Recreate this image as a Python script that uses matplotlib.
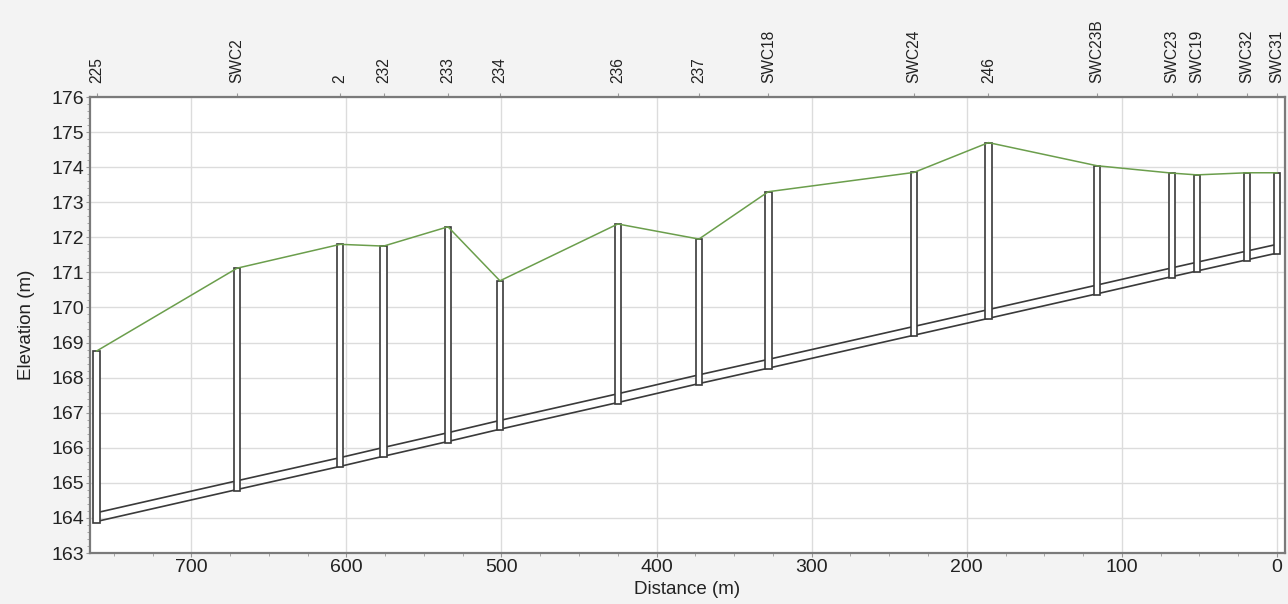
import matplotlib
matplotlib.use("Agg")
import matplotlib.pyplot as plt
from matplotlib.patches import Rectangle
from matplotlib.ticker import MultipleLocator

plt.rcParams['font.family'] = ['Liberation Sans', 'DejaVu Sans']

# Manhole names, chainage (m), ground elevation (m), invert elevation (m)
names = ["225", "SWC2", "2", "232", "233", "234", "236", "237", "SWC18",
         "SWC24", "246", "SWC23B", "SWC23", "SWC19", "SWC32", "SWC31"]
distance = [761, 670.5, 604, 576, 534.5, 501, 425, 372.7, 328,
            234, 186, 116, 67.7, 51.6, 19.3, 0]
ground = [168.76, 171.12, 171.8, 171.75, 172.3, 170.76, 172.38, 171.95, 173.3,
          173.85, 174.7, 174.04, 173.83, 173.78, 173.84, 173.84]
invert = [163.90, 164.81, 165.47, 165.76, 166.18, 166.53, 167.29, 167.83, 168.27,
          169.21, 169.69, 170.39, 170.88, 171.04, 171.36, 171.55]
pipe_diameter = 0.25

fig = plt.figure(figsize=(12.88, 6.04), dpi=100, facecolor='#f3f3f3')
ax = fig.add_axes([0.0699, 0.0844, 0.9278, 0.755])
ax.set_facecolor('white')

# pipe (two lines)
ax.plot(distance, invert, color='#3a3a3a', lw=1.2, zorder=3)
ax.plot(distance, [v + pipe_diameter for v in invert], color='#3a3a3a', lw=1.2, zorder=3)

# manholes
mh_w = 4.2
for d, g, v in zip(distance, ground, invert):
    ax.add_patch(Rectangle((d - mh_w / 2, v - 0.03), mh_w, g - v + 0.03,
                           facecolor='white', edgecolor='#3a3a3a', lw=1.2, zorder=4))

# ground line
ax.plot(distance, ground, color='#6b9e4c', lw=1.1, zorder=5)

ax.set_xlim(765.3, -5.2)
ax.set_ylim(163, 176)
ax.xaxis.set_major_locator(MultipleLocator(100))
ax.xaxis.set_minor_locator(MultipleLocator(25))
ax.yaxis.set_major_locator(MultipleLocator(1))
ax.yaxis.set_minor_locator(MultipleLocator(0.2))
ax.grid(True, which='major', color='#dcdcdc', lw=1.0, zorder=0)
ax.set_axisbelow(True)

for s in ax.spines.values():
    s.set_color('#7a7a7a')
    s.set_linewidth(1.6)

ax.tick_params(axis='both', which='major', labelsize=14, length=3, color='#999999',
               labelcolor='#222222', pad=1)
ax.tick_params(axis='both', which='minor', length=2, color='#999999')

ax.set_xlabel('Distance (m)', fontsize=13.5, color='#222222', labelpad=4)
ax.set_ylabel('Elevation (m)', fontsize=13.5, color='#222222', labelpad=12)

top = ax.secondary_xaxis('top')
top.set_xticks(distance)
top.set_xticklabels(names, rotation=90, fontsize=11.2, color='#222222')
top.tick_params(length=3, color='#999999', pad=7)
top.spines['top'].set_visible(False)

fig.savefig('out.png', dpi=100, facecolor=fig.get_facecolor())
